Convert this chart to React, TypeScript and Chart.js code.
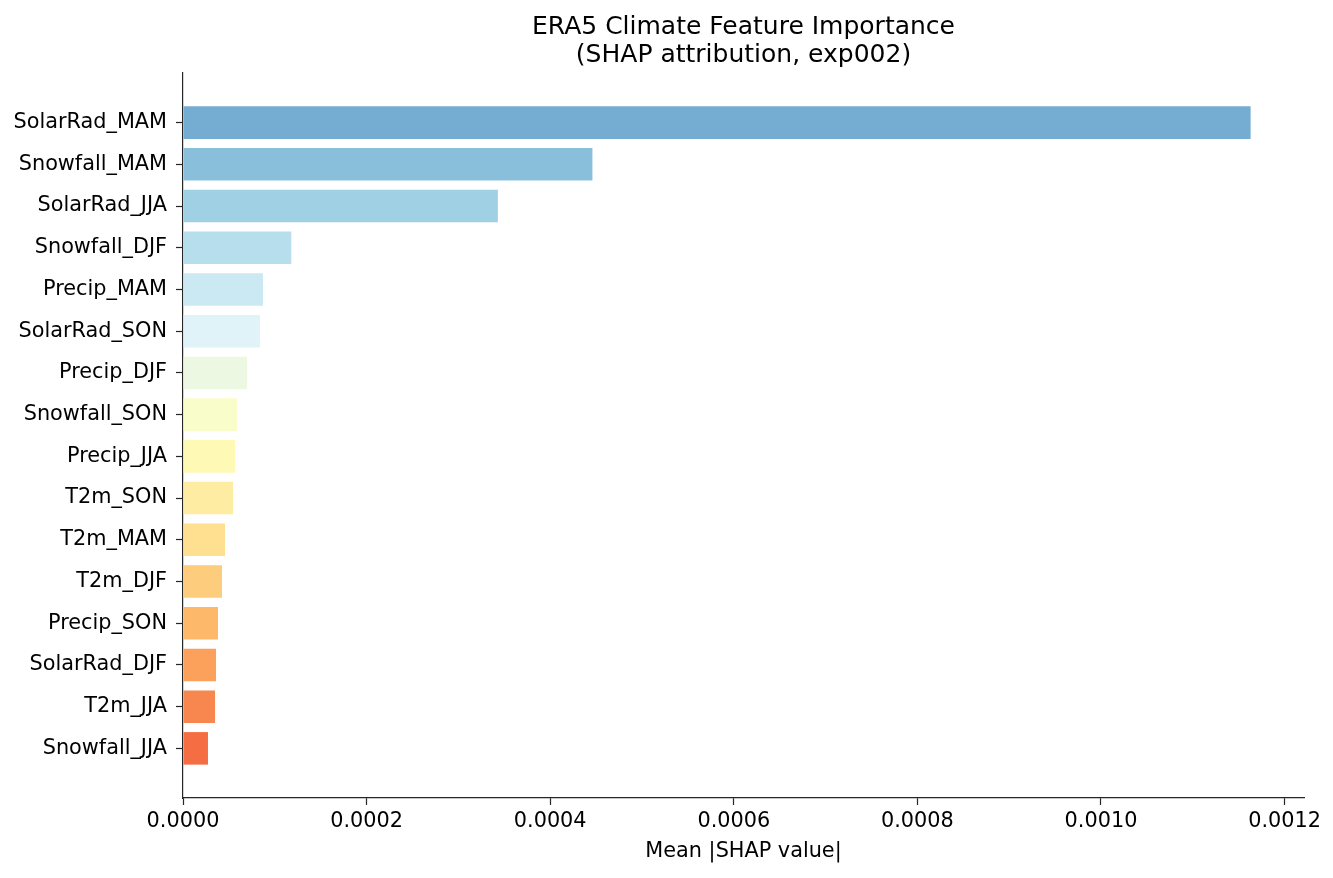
import React, { useEffect, useRef } from "react";
import { Chart, registerables } from "chart.js";

Chart.register(...registerables);

const FEATURES = [
  "SolarRad_MAM",
  "Snowfall_MAM",
  "SolarRad_JJA",
  "Snowfall_DJF",
  "Precip_MAM",
  "SolarRad_SON",
  "Precip_DJF",
  "Snowfall_SON",
  "Precip_JJA",
  "T2m_SON",
  "T2m_MAM",
  "T2m_DJF",
  "Precip_SON",
  "SolarRad_DJF",
  "T2m_JJA",
  "Snowfall_JJA",
];

const MEAN_ABS_SHAP = [
  0.001163, 0.000446, 0.000343, 0.000118, 0.0000872, 0.0000839, 0.0000698,
  0.0000589, 0.0000567, 0.0000545, 0.0000458, 0.0000425, 0.0000381,
  0.000036, 0.0000349, 0.0000272,
];

const X_TICKS = [0, 0.0002, 0.0004, 0.0006, 0.0008, 0.001, 0.0012];

const BAR_COLORS = [
  "rgb(116,173,209)",
  "rgb(138,191,219)",
  "rgb(160,208,228)",
  "rgb(182,222,236)",
  "rgb(203,233,242)",
  "rgb(224,243,248)",
  "rgb(236,248,225)",
  "rgb(249,253,202)",
  "rgb(255,249,182)",
  "rgb(254,236,163)",
  "rgb(254,224,144)",
  "rgb(254,204,125)",
  "rgb(253,184,106)",
  "rgb(251,161,91)",
  "rgb(248,135,79)",
  "rgb(244,109,67)",
];

const TITLE_LINES = ["ERA5 Climate Feature Importance", "(SHAP attribution, exp002)"];
const X_LABEL = "Mean |SHAP value|";
const FONT = "'DejaVu Sans', sans-serif";
const AXIS_COLOR = "#262626";

export default function App() {
  const ref = useRef<HTMLCanvasElement | null>(null);

  useEffect(() => {
    if (!ref.current) return;
    const n = FEATURES.length;
    const maxV = Math.max(...MEAN_ABS_SHAP);
    const yMargin = (n - 1 + 0.8) * 0.05;

    const titlePlugin = {
      id: "mplTitle",
      afterDraw(chart: any) {
        const ctx = chart.ctx;
        const { left, right } = chart.chartArea;
        const cx = (left + right) / 2;
        ctx.save();
        ctx.fillStyle = "#000";
        ctx.font = `25px ${FONT}`;
        ctx.textAlign = "center";
        ctx.textBaseline = "alphabetic";
        ctx.fillText(TITLE_LINES[0], cx, 33.5);
        ctx.fillText(TITLE_LINES[1], cx, 61.5);
        ctx.restore();
      },
    };

    const chart = new Chart(ref.current, {
      type: "bar",
      data: {
        datasets: [
          {
            data: MEAN_ABS_SHAP.map((v, i) => ({ x: v, y: i })),
            backgroundColor: BAR_COLORS,
            borderWidth: 0,
            categoryPercentage: 0.78,
            barPercentage: 1.0,
          },
        ],
      },
      options: {
        animation: false,
        responsive: false,
        indexAxis: "y",
        layout: { padding: { top: 73, right: 29, left: 0, bottom: 0 } },
        plugins: {
          legend: { display: false },
          tooltip: { enabled: false },
          title: { display: false },
        },
        scales: {
          x: {
            type: "linear",
            min: 0,
            max: maxV * 1.05,
            offset: false,
            afterBuildTicks: (scale: any) => {
              scale.ticks = X_TICKS.map((v) => ({ value: v }));
            },
            afterFit: (scale: any) => {
              scale.height = 80;
            },
            grid: {
              drawOnChartArea: false,
              drawTicks: true,
              offset: false,
              tickLength: 7,
              tickWidth: 1.2,
              tickColor: AXIS_COLOR,
            },
            border: { display: true, color: AXIS_COLOR, width: 1.2 },
            ticks: {
              color: "#000",
              font: { family: FONT, size: 20.8 },
              padding: 4,
              maxRotation: 0,
              autoSkip: false,
              callback: (v: any) => Number(v).toFixed(4),
            },
            title: {
              display: true,
              text: X_LABEL,
              color: "#000",
              font: { family: FONT, size: 20.8 },
              padding: { top: 0, bottom: 14 },
            },
          },
          y: {
            type: "linear",
            reverse: true,
            offset: false,
            min: -0.4 - yMargin,
            max: n - 1 + 0.4 + yMargin,
            afterBuildTicks: (scale: any) => {
              scale.ticks = FEATURES.map((_, i) => ({ value: i }));
            },
            afterFit: (scale: any) => {
              scale.width = 183;
            },
            grid: {
              drawOnChartArea: false,
              drawTicks: true,
              offset: false,
              tickLength: 7,
              tickWidth: 1.2,
              tickColor: AXIS_COLOR,
            },
            border: { display: true, color: AXIS_COLOR, width: 1.2 },
            ticks: {
              color: "#000",
              font: { family: FONT, size: 20.8 },
              padding: 9,
              autoSkip: false,
              callback: (v: any) => FEATURES[Math.round(Number(v))] ?? "",
            },
          },
        },
      },
      plugins: [titlePlugin],
    });

    return () => chart.destroy();
  }, []);

  return (
    <div style={{ position: "fixed", left: 0, top: 0, width: 1333, height: 878, background: "#fff" }}>
      <canvas ref={ref} width={1333} height={878} style={{ width: 1333, height: 878, display: "block" }} />
    </div>
  );
}
